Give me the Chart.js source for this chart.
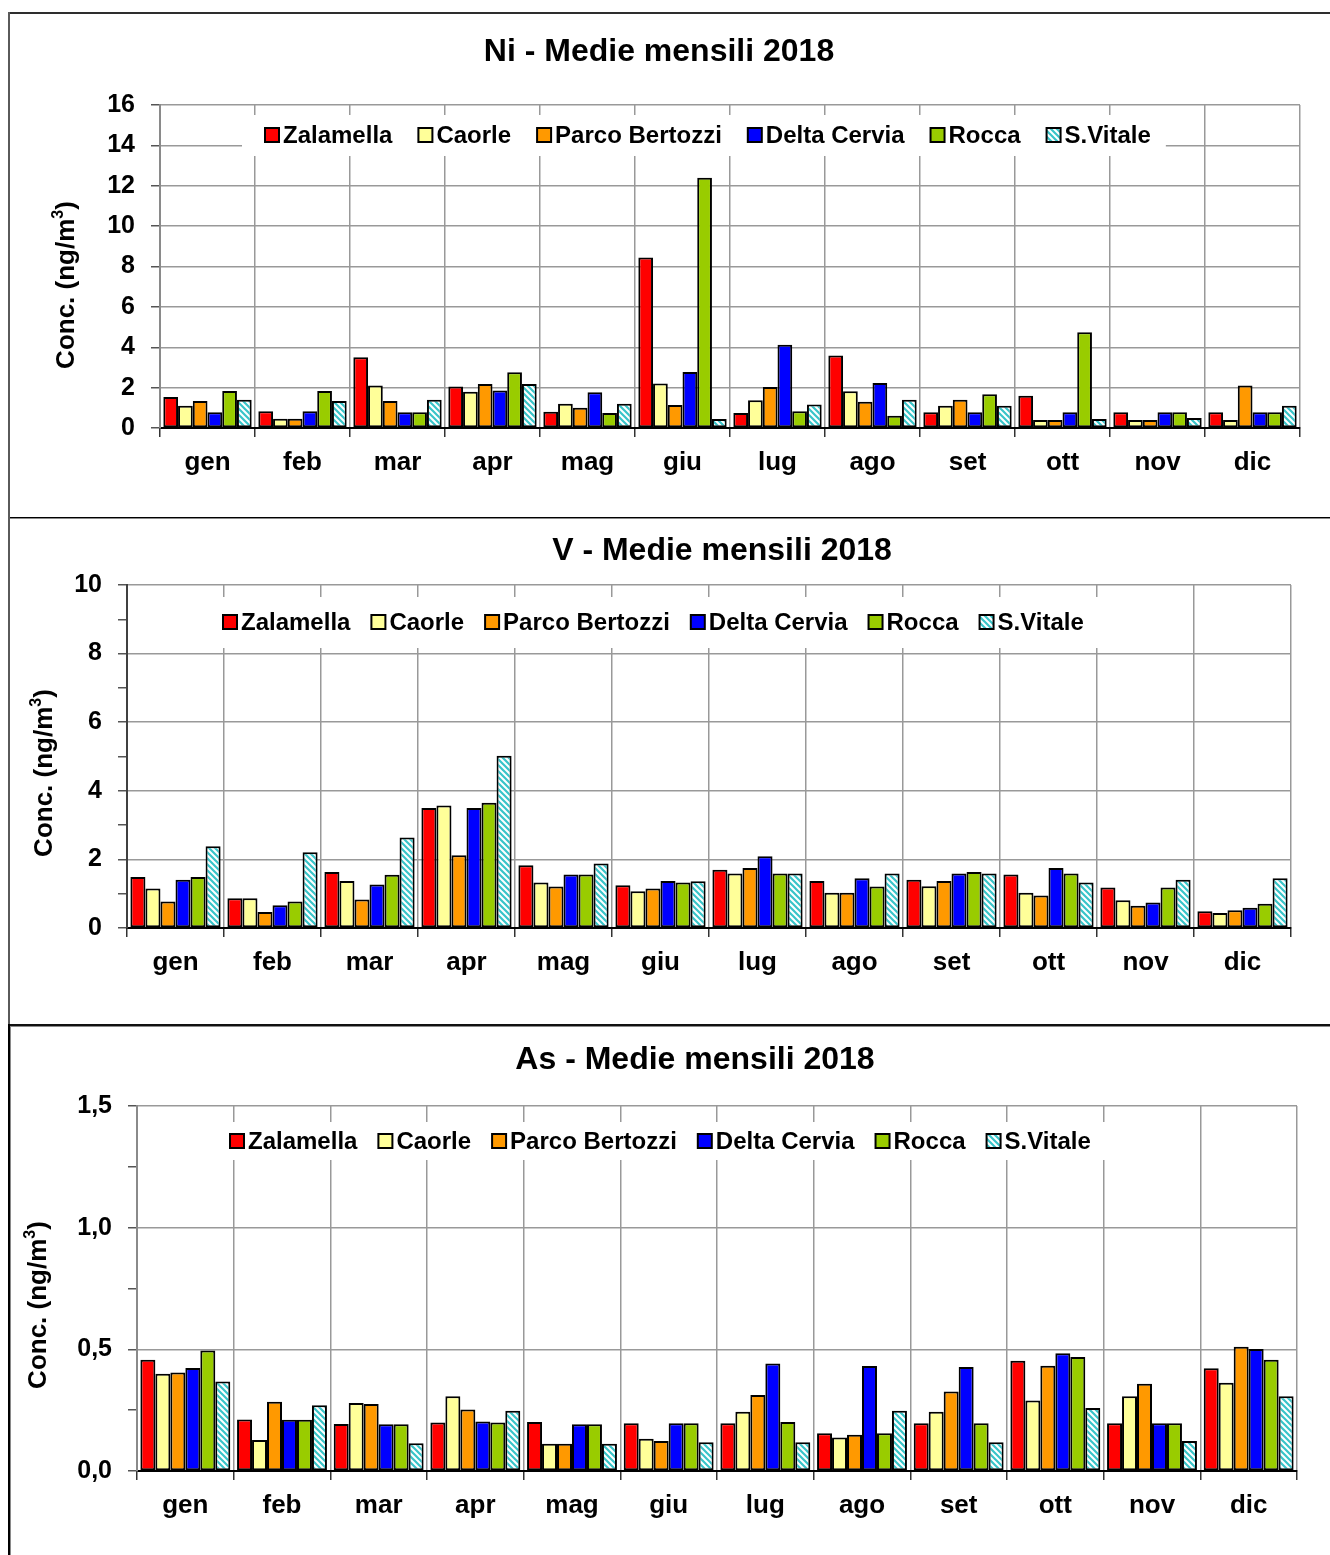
<!DOCTYPE html>
<html>
<head>
<meta charset="utf-8">
<title>Medie mensili 2018 - Ni, V, As</title>
<script src="https://cdn.jsdelivr.net/npm/chart.js@4.4.1/dist/chart.umd.min.js"></script>
<style>
  html, body { margin: 0; padding: 0; background: #fff; width: 1330px; height: 1555px; overflow: hidden; }
  .line { position: absolute; }
  canvas { position: absolute; left: 0; }
</style>
</head>
<body>
<!-- panel frames -->
<div class="line" style="left:8px;top:12px;width:1322px;height:2px;background:#2e2e2e"></div>
<div class="line" style="left:8px;top:12px;width:2px;height:505px;background:#5a5a5a"></div>
<div class="line" style="left:8px;top:517px;width:1322px;height:1px;background:#000"></div>
<div class="line" style="left:8px;top:518px;width:1322px;height:1px;background:#8a8a8a"></div>
<div class="line" style="left:8px;top:517px;width:2px;height:507px;background:#5a5a5a"></div>
<div class="line" style="left:8px;top:1024px;width:1322px;height:2px;background:#111"></div>
<div class="line" style="left:10px;top:1026px;width:1320px;height:1px;background:#8a8a8a"></div>
<div class="line" style="left:8px;top:1024px;width:2px;height:531px;background:#000"></div>
<div class="line" style="left:10px;top:1026px;width:1px;height:529px;background:#8a8a8a"></div>

<canvas id="chartNi" width="1330" height="500" style="top:14px"></canvas>
<canvas id="chartV" width="1330" height="503" style="top:519px"></canvas>
<canvas id="chartAs" width="1330" height="527" style="top:1028px"></canvas>

<script>
// ---- data ----
const months = ['gen', 'feb', 'mar', 'apr', 'mag', 'giu', 'lug', 'ago', 'set', 'ott', 'nov', 'dic'];
const stations = ['Zalamella', 'Caorle', 'Parco Bertozzi', 'Delta Cervia', 'Rocca', 'S.Vitale'];

// Ni (ng/m3)
const niZalamella = [1.53, 0.83, 3.51, 2.06, 0.81, 8.45, 0.74, 3.59, 0.78, 1.60, 0.78, 0.78];
const niCaorle    = [1.10, 0.46, 2.10, 1.80, 1.20, 2.20, 1.37, 1.82, 1.10, 0.40, 0.40, 0.40];
const niParco     = [1.34, 0.46, 1.34, 2.18, 1.00, 1.14, 2.03, 1.30, 1.40, 0.40, 0.40, 2.10];
const niDelta     = [0.78, 0.83, 0.78, 1.86, 1.77, 2.78, 4.12, 2.23, 0.78, 0.78, 0.78, 0.78];
const niRocca     = [1.83, 1.83, 0.78, 2.76, 0.74, 12.40, 0.83, 0.61, 1.67, 4.74, 0.78, 0.78];
const niVitale    = [1.40, 1.34, 1.40, 2.18, 1.20, 0.45, 1.16, 1.40, 1.10, 0.45, 0.50, 1.10];

// V (ng/m3)
const vZalamella = [1.49, 0.87, 1.63, 3.50, 1.83, 1.25, 1.70, 1.37, 1.41, 1.56, 1.18, 0.49];
const vCaorle    = [1.15, 0.87, 1.37, 3.57, 1.33, 1.07, 1.59, 1.03, 1.22, 1.03, 0.81, 0.44];
const vParco     = [0.77, 0.47, 0.83, 2.12, 1.21, 1.15, 1.75, 1.03, 1.37, 0.95, 0.65, 0.52];
const vDelta     = [1.41, 0.66, 1.27, 3.50, 1.56, 1.37, 2.09, 1.45, 1.59, 1.75, 0.74, 0.59];
const vRocca     = [1.49, 0.77, 1.55, 3.65, 1.56, 1.33, 1.59, 1.21, 1.63, 1.59, 1.18, 0.71];
const vVitale    = [2.38, 2.21, 2.64, 5.02, 1.88, 1.36, 1.59, 1.59, 1.59, 1.33, 1.41, 1.45];

// As (ng/m3)
const asZalamella = [0.457, 0.212, 0.193, 0.199, 0.201, 0.196, 0.196, 0.155, 0.196, 0.453, 0.196, 0.422];
const asCaorle    = [0.400, 0.127, 0.279, 0.307, 0.112, 0.133, 0.244, 0.138, 0.244, 0.290, 0.307, 0.363];
const asParco     = [0.405, 0.285, 0.275, 0.253, 0.112, 0.123, 0.312, 0.149, 0.327, 0.433, 0.359, 0.511];
const asDelta     = [0.423, 0.211, 0.192, 0.203, 0.192, 0.196, 0.442, 0.432, 0.427, 0.484, 0.196, 0.501];
const asRocca     = [0.495, 0.211, 0.192, 0.199, 0.192, 0.196, 0.201, 0.155, 0.196, 0.468, 0.196, 0.457];
const asVitale    = [0.368, 0.270, 0.114, 0.248, 0.112, 0.118, 0.118, 0.248, 0.118, 0.259, 0.123, 0.307];

// y-axis tick values and their labels
const niTickValues = [0, 2, 4, 6, 8, 10, 12, 14, 16];
const niTickLabels = ['0', '2', '4', '6', '8', '10', '12', '14', '16'];
const vTickValues  = [0, 2, 4, 6, 8, 10];
const vTickLabels  = ['0', '2', '4', '6', '8', '10'];
const asTickValues = [0, 0.5, 1, 1.5];
const asTickLabels = ['0,0', '0,5', '1,0', '1,5'];

const niTitle = 'Ni - Medie mensili 2018';
const vTitle  = 'V - Medie mensili 2018';
const asTitle = 'As - Medie mensili 2018';
const unitTitle = ['Conc. (ng/m', '3', ')'];

// ---- styling ----
const FONT = '"Liberation Sans", Arial, Helvetica, sans-serif';
const X_AXIS_H = 60;

function hatchPattern() {
  const tile = document.createElement('canvas');
  tile.width = 6; tile.height = 6;
  const g = tile.getContext('2d');
  g.fillStyle = '#ffffff';
  g.fillRect(0, 0, 6, 6);
  g.strokeStyle = '#38c4c9';
  g.lineWidth = 2.2;
  g.beginPath();
  g.moveTo(-3, 3); g.lineTo(3, 9);
  g.moveTo(0, 0); g.lineTo(6, 6);
  g.moveTo(3, -3); g.lineTo(9, 3);
  g.stroke();
  return g.createPattern(tile, 'repeat');
}

const fills = ['#ff0000', '#ffff99', '#ff9900', '#0000ff', '#99cc00', hatchPattern()];

// titles, rotated unit label and the in-plot legend
const decorPlugin = {
  id: 'decor',
  beforeDatasetsDraw(chart, args, o) {
    const ctx = chart.ctx;
    ctx.save();
    ctx.font = 'bold 24px ' + FONT;
    const ds = chart.data.datasets;
    const gap = o.itemGap;
    const widths = ds.map(d => ctx.measureText(d.label).width);
    let total = 0;
    ds.forEach((d, i) => { total += 18 + widths[i] + (i < ds.length - 1 ? gap : 0); });
    let x = o.legendX;
    const cy = o.legendY;
    ctx.fillStyle = '#fff';
    ctx.fillRect(x - 23, o.boxTop, total + 23 + 15, o.boxBottom - o.boxTop);
    ds.forEach((d, i) => {
      ctx.fillStyle = d.backgroundColor;
      ctx.fillRect(x, cy - 7, 14, 14);
      ctx.lineWidth = 2;
      ctx.strokeStyle = '#000';
      ctx.strokeRect(x, cy - 7, 14, 14);
      ctx.fillStyle = '#000';
      ctx.textAlign = 'left';
      ctx.textBaseline = 'middle';
      ctx.fillText(d.label, x + 18, cy + 1);
      x += 18 + widths[i] + gap;
    });
    ctx.restore();
  },
  afterDraw(chart, args, o) {
    const ctx = chart.ctx;
    ctx.save();
    ctx.fillStyle = '#000';
    ctx.font = 'bold 32px ' + FONT;
    ctx.textAlign = 'center';
    ctx.textBaseline = 'middle';
    ctx.fillText(o.title, o.titleX, o.titleY);

    // vertical axis title with superscript
    ctx.translate(o.yTitleX, o.yTitleY);
    ctx.rotate(-Math.PI / 2);
    const big = 'bold 26px ' + FONT, small = 'bold 16px ' + FONT;
    ctx.font = big; const w0 = ctx.measureText(unitTitle[0]).width;
    ctx.font = small; const w1 = ctx.measureText(unitTitle[1]).width;
    ctx.font = big; const w2 = ctx.measureText(unitTitle[2]).width;
    let sx = -(w0 + w1 + w2) / 2;
    ctx.textAlign = 'left';
    ctx.textBaseline = 'middle';
    ctx.font = big; ctx.fillText(unitTitle[0], sx, 0); sx += w0;
    ctx.font = small; ctx.fillText(unitTitle[1], sx, -8); sx += w1;
    ctx.font = big; ctx.fillText(unitTitle[2], sx, 0);
    ctx.restore();
  }
};

function makeChart(id, spec) {
  const top0 = spec.canvasTop;
  const a = spec.area;
  const datasets = stations.map((name, i) => ({
    label: name,
    data: spec.series[i],
    backgroundColor: fills[i],
    borderColor: '#000',
    borderWidth: 2,
    borderSkipped: false,
    barPercentage: 1,
    categoryPercentage: 0.93
  }));
  const isMajor = v => spec.tickValues.some(t => Math.abs(t - v) < 1e-9);
  return new Chart(document.getElementById(id), {
    type: 'bar',
    data: { labels: months, datasets },
    options: {
      responsive: false,
      animation: false,
      events: [],
      layout: {
        padding: {
          left: 0,
          top: a.top - top0,
          right: 1330 - a.right,
          bottom: (top0 + spec.canvasHeight) - a.bottom - X_AXIS_H
        }
      },
      plugins: {
        legend: { display: false },
        tooltip: { enabled: false },
        title: { display: false },
        decor: {
          title: spec.title,
          titleX: spec.titleX,
          titleY: spec.titleY - top0,
          yTitleX: spec.yTitleX,
          yTitleY: spec.yTitleY - top0,
          legendX: spec.legendX,
          legendY: spec.legendY - top0,
          itemGap: spec.itemGap,
          boxTop: spec.boxTop - top0,
          boxBottom: spec.boxBottom - top0
        }
      },
      scales: {
        x: {
          offset: true,
          grid: {
            offset: true,
            color: '#999',
            lineWidth: 1.5,
            tickLength: 9,
            tickColor: '#333'
          },
          border: { color: '#000', width: 2 },
          ticks: {
            color: '#000',
            font: { family: FONT, size: 26, weight: 'bold' },
            padding: 10,
            maxRotation: 0,
            autoSkip: false
          },
          afterFit(s) { s.height = X_AXIS_H; }
        },
        y: {
          min: 0,
          max: spec.max,
          grid: {
            color: c => (c.tick && isMajor(c.tick.value)) ? '#999' : 'rgba(0,0,0,0)',
            tickColor: '#555',
            lineWidth: 1.5,
            tickLength: 9
          },
          border: { color: spec.axisColor, width: 2 },
          ticks: {
            stepSize: spec.minorStep,
            color: '#000',
            font: { family: FONT, size: 25, weight: 'bold' },
            padding: 16,
            callback: v => {
              const k = spec.tickValues.findIndex(t => Math.abs(t - v) < 1e-9);
              return k >= 0 ? spec.tickLabels[k] : '';
            }
          },
          afterFit(s) { s.width = a.left; }
        }
      }
    },
    plugins: [decorPlugin]
  });
}

makeChart('chartNi', {
  series: [niZalamella, niCaorle, niParco, niDelta, niRocca, niVitale],
  max: 16, minorStep: 1, tickValues: niTickValues, tickLabels: niTickLabels,
  title: niTitle, axisColor: '#8a8a8a',
  canvasTop: 14, canvasHeight: 500,
  area: { left: 160, top: 105, right: 1300, bottom: 428 },
  titleX: 659, titleY: 52, yTitleX: 67, yTitleY: 285,
  legendX: 265, legendY: 135, itemGap: 26, boxTop: 115, boxBottom: 156
});

makeChart('chartV', {
  series: [vZalamella, vCaorle, vParco, vDelta, vRocca, vVitale],
  max: 10, minorStep: 1, tickValues: vTickValues, tickLabels: vTickLabels,
  title: vTitle, axisColor: '#404040',
  canvasTop: 519, canvasHeight: 503,
  area: { left: 127, top: 585, right: 1291, bottom: 928 },
  titleX: 722, titleY: 551, yTitleX: 45, yTitleY: 773,
  legendX: 223, legendY: 622, itemGap: 21, boxTop: 597, boxBottom: 648
});

makeChart('chartAs', {
  series: [asZalamella, asCaorle, asParco, asDelta, asRocca, asVitale],
  max: 1.5, minorStep: 0.25, tickValues: asTickValues, tickLabels: asTickLabels,
  title: asTitle, axisColor: '#8a8a8a',
  canvasTop: 1028, canvasHeight: 527,
  area: { left: 137, top: 1106, right: 1297, bottom: 1471 },
  titleX: 695, titleY: 1060, yTitleX: 39, yTitleY: 1305,
  legendX: 230, legendY: 1141, itemGap: 21, boxTop: 1122, boxBottom: 1160
});
</script>
</body>
</html>
